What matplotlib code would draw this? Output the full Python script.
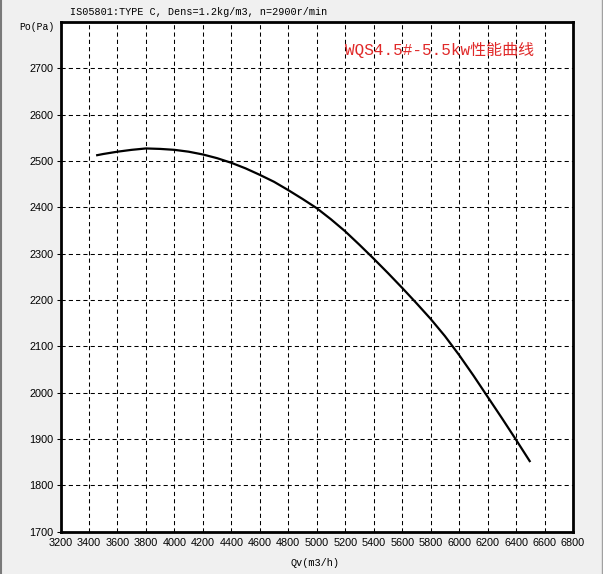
import matplotlib
matplotlib.use("Agg")
import matplotlib.pyplot as plt
from matplotlib.lines import Line2D

# ---- data ----
qv = [3450, 3500, 3600, 3700, 3800, 3900, 4000, 4100, 4200, 4300,
      4400, 4500, 4600, 4700, 4800, 4900, 5000, 5100, 5200, 5300,
      5400, 5500, 5600, 5700, 5800, 5900, 6000, 6100, 6200, 6300,
      6400, 6500]
po = [2512, 2515, 2520, 2524, 2527, 2526, 2524, 2520, 2514, 2506,
      2496, 2484, 2470, 2455, 2437, 2418, 2398, 2374, 2348, 2319,
      2289, 2258, 2226, 2193, 2159, 2122, 2081, 2037, 1991, 1945,
      1898, 1850]
x_ticks = list(range(3200, 6801, 200))
y_ticks = list(range(1700, 2701, 100))
header = "IS05801:TYPE C, Dens=1.2kg/m3, n=2900r/min"
title = "WQS4.5#-5.5kw性能曲线"
x_label = "Qv(m3/h)"
y_label = "Po(Pa)"

W, H = 603, 574
fig = plt.figure(figsize=(W / 100, H / 100), dpi=100, facecolor="#F0F0F0")
ax = fig.add_axes([60.5 / W, 1 - 531.5 / H, (573 - 60.5) / W, (531.5 - 22) / H])
ax.set_facecolor("white")

ax.set_xlim(3200, 6800)
ax.set_ylim(1700, 2800)
ax.set_xticks(x_ticks)
ax.set_yticks(y_ticks)
ax.set_xticklabels([str(v) for v in x_ticks])
ax.set_yticklabels([str(v) for v in y_ticks])

ax.grid(True, color="black", linestyle=(0, (4, 3)), linewidth=0.75)
ax.set_axisbelow(True)

for s in ax.spines.values():
    s.set_linewidth(2.0)
    s.set_color("black")

ax.tick_params(axis="both", which="both", direction="out", length=3,
               width=0.75, color="black", labelsize=7.8, pad=2,
               labelfontfamily="Liberation Sans")
ax.tick_params(axis="x", length=0, pad=5)

ax.plot(qv, po, color="black", linewidth=1.6, solid_capstyle="butt",
        solid_joinstyle="round", zorder=5)

# header text and axis labels
fig.text(70 / W, 1 - 12 / H, header, fontsize=7.3, family="Liberation Mono",
         ha="left", va="center", color="black")
fig.text(19 / W, 1 - 27 / H, y_label, fontsize=7.0, family="Liberation Mono",
         ha="left", va="center", color="black")
fig.text(315 / W, 1 - 563 / H, x_label, fontsize=7.3, family="Liberation Mono",
         ha="center", va="center", color="black")

fig.text(345 / W, 1 - 50 / H, title, fontsize=11.5,
         family=["Liberation Mono", "Noto Sans CJK SC"],
         ha="left", va="center", color="#E02828")

# window border lines
fig.add_artist(Line2D([1 / W, 1 / W], [0, 1], color="#7A7A7A", linewidth=1.5,
                      transform=fig.transFigure))
fig.add_artist(Line2D([601.5 / W, 601.5 / W], [0, 1], color="#A0A0A0", linewidth=1.0,
                      transform=fig.transFigure))

fig.savefig("out.png", dpi=100, facecolor=fig.get_facecolor())
